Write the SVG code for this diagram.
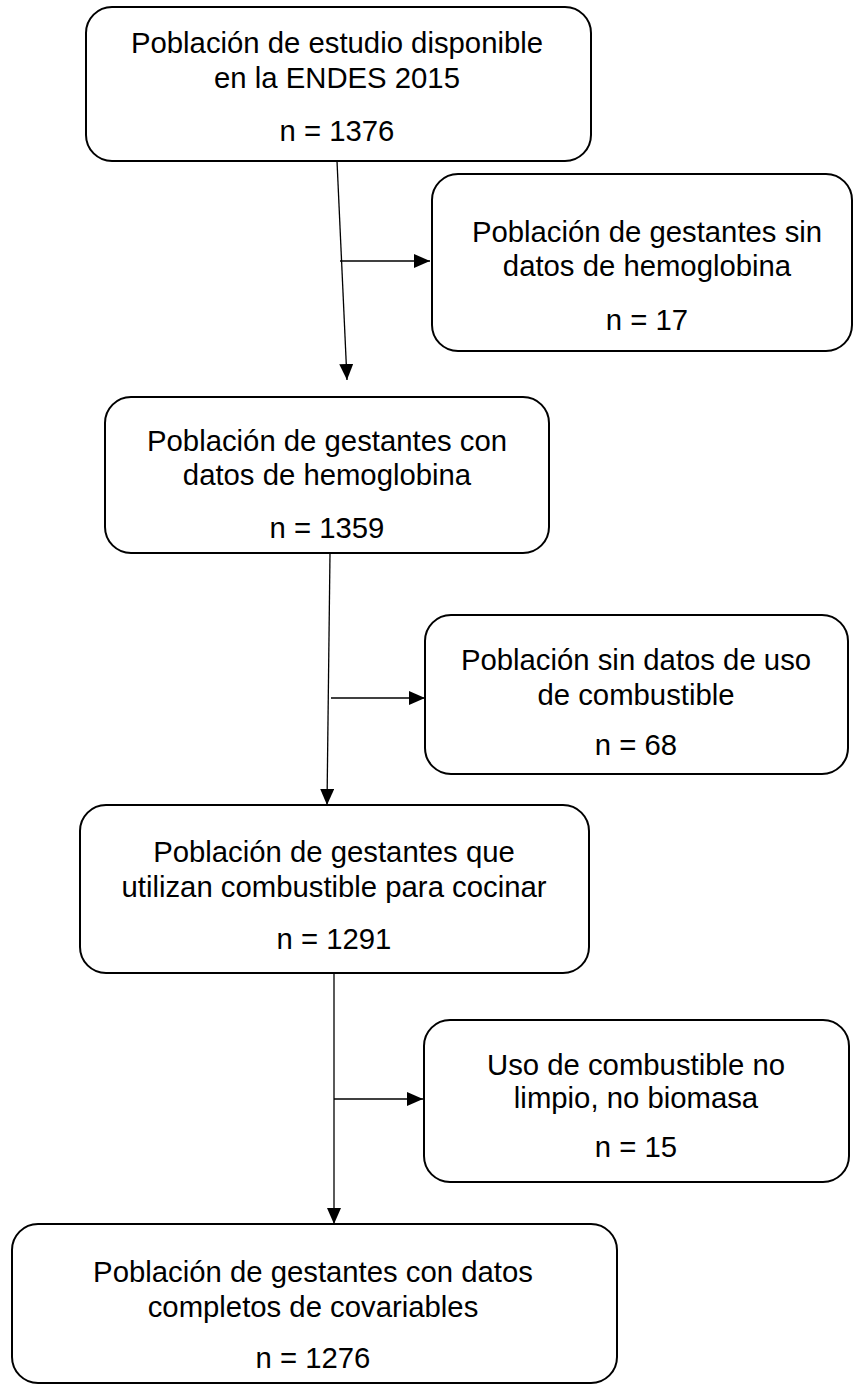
<svg xmlns="http://www.w3.org/2000/svg" width="853" height="1387" viewBox="0 0 853 1387">
<style>
.box{fill:#fff;stroke:#000;stroke-width:2}
.t{font-family:"Liberation Sans",Arial,sans-serif;font-size:29.3px;fill:#000;text-anchor:middle}
.c{stroke:#000;stroke-width:1.3;fill:none;marker-end:url(#ah)}
</style>
<defs>
<marker id="ah" markerWidth="16" markerHeight="14" refX="16" refY="7" orient="auto" markerUnits="userSpaceOnUse">
<path d="M0,0 L16,7 L0,14 Z" fill="#000"/>
</marker>
</defs>
<rect width="853" height="1387" fill="#fff"/>
<g id="connectors">
<line class="c" x1="337" y1="161" x2="347" y2="380"/>
<line class="c" x1="340" y1="261" x2="430" y2="261"/>
<line class="c" x1="330" y1="553" x2="327" y2="805"/>
<line class="c" x1="331" y1="698" x2="425" y2="698"/>
<line class="c" x1="334" y1="973" x2="334" y2="1224"/>
<line class="c" x1="334" y1="1099" x2="423" y2="1099"/>
</g>
<g id="n1">
<rect class="box" x="86" y="7" width="505" height="154" rx="26"/>
<text class="t" x="337" y="53">Población de estudio disponible</text>
<text class="t" x="337" y="88">en la ENDES 2015</text>
<text class="t" x="337" y="141">n = 1376</text>
</g>
<g id="n2">
<rect class="box" x="432" y="174" width="420" height="177" rx="26"/>
<text class="t" x="647" y="242">Población de gestantes sin</text>
<text class="t" x="647" y="276">datos de hemoglobina</text>
<text class="t" x="647" y="330">n = 17</text>
</g>
<g id="n3">
<rect class="box" x="105" y="397" width="444" height="156" rx="26"/>
<text class="t" x="327" y="451">Población de gestantes con</text>
<text class="t" x="327" y="485">datos de hemoglobina</text>
<text class="t" x="327" y="538">n = 1359</text>
</g>
<g id="n4">
<rect class="box" x="425" y="615" width="423" height="159" rx="26"/>
<text class="t" x="636" y="670">Población sin datos de uso</text>
<text class="t" x="636" y="705">de combustible</text>
<text class="t" x="636" y="755">n = 68</text>
</g>
<g id="n5">
<rect class="box" x="80" y="805" width="509" height="168" rx="26"/>
<text class="t" x="334" y="862">Población de gestantes que</text>
<text class="t" x="334" y="897">utilizan combustible para cocinar</text>
<text class="t" x="334" y="949">n = 1291</text>
</g>
<g id="n6">
<rect class="box" x="424" y="1020" width="425" height="162" rx="26"/>
<text class="t" x="636" y="1075">Uso de combustible no</text>
<text class="t" x="636" y="1108">limpio, no biomasa</text>
<text class="t" x="636" y="1157">n = 15</text>
</g>
<g id="n7">
<rect class="box" x="12" y="1224" width="605" height="159" rx="26"/>
<text class="t" x="313" y="1282">Población de gestantes con datos</text>
<text class="t" x="313" y="1317">completos de covariables</text>
<text class="t" x="313" y="1368">n = 1276</text>
</g>
</svg>
